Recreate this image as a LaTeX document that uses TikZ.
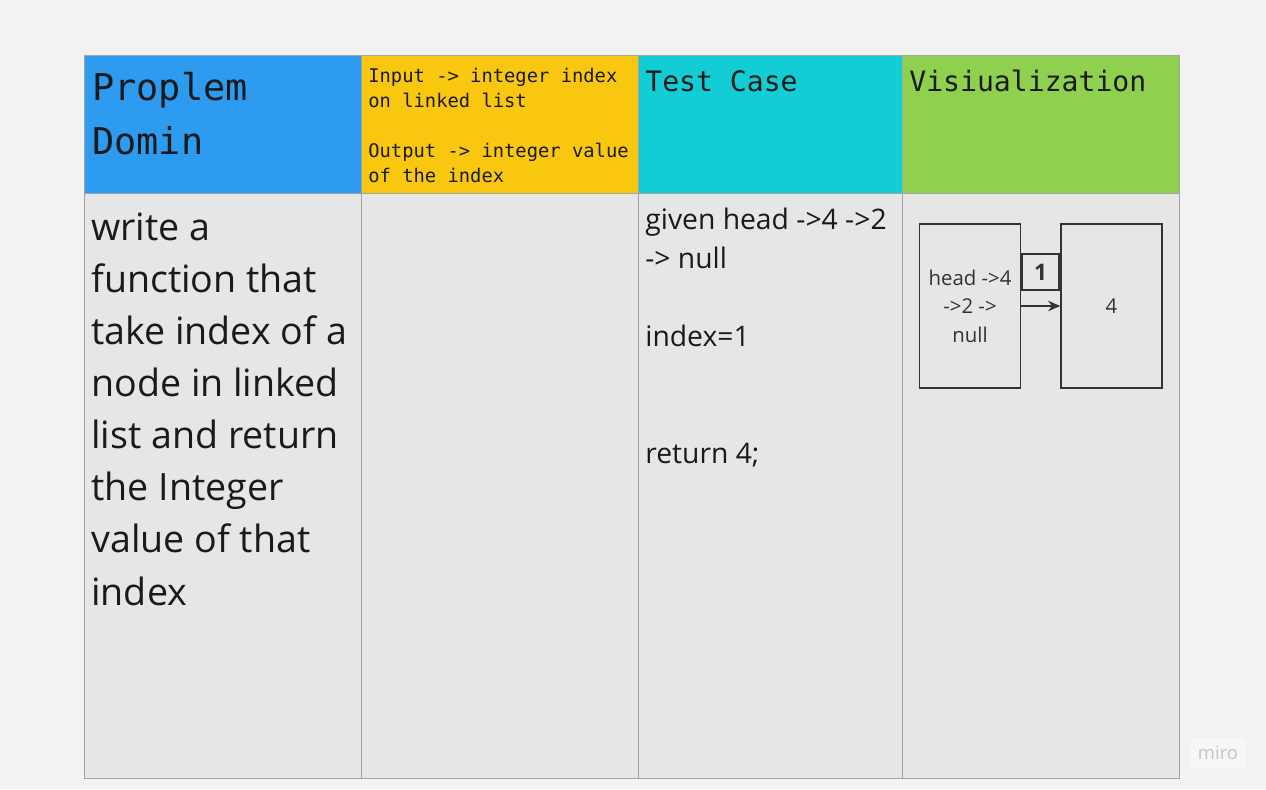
\documentclass[tikz,border=0pt]{standalone}
\usepackage{fontspec}
\setmainfont{Open Sans}
\setmonofont{DejaVu Sans Mono}
\usetikzlibrary{arrows.meta, positioning}
\definecolor{mirobg}{HTML}{F2F2F2}
\definecolor{cellgray}{HTML}{E6E6E6}
\definecolor{gridgray}{HTML}{A3A3A3}
\definecolor{miroblue}{HTML}{2D9BF0}
\definecolor{miroyellow}{HTML}{FAC710}
\definecolor{mirocyan}{HTML}{12CDD4}
\definecolor{mirogreen}{HTML}{8FD14F}
\definecolor{inkdark}{HTML}{1A1A1A}
\definecolor{boxline}{HTML}{333333}
\definecolor{marktext}{HTML}{C4C4C4}

\begin{document}
\begin{tikzpicture}[
  x=0.02cm, y=-0.02cm,
  cell/.style={rectangle, draw=gridgray, fill=#1, anchor=north west, inner sep=0pt},
  headtext/.style={anchor=north west, inner sep=0pt, align=left, text=inkdark, font=\ttfamily#1},
  bodytext/.style={anchor=north west, inner sep=0pt, align=left, text=inkdark, font=#1},
  vizbox/.style={rectangle, draw=boxline, thick, fill=cellgray, inner sep=0pt, align=center, text=boxline, font=\fontsize{11.6}{16.2}\selectfont},
]
\fill[mirobg] (0,0) rectangle (1266,789);

% header row
\node[cell=miroblue, minimum width=5.54cm, minimum height=2.76cm] (hdomain) at (84,55) {};
\node[cell=miroyellow, minimum width=5.54cm, minimum height=2.76cm] (hio) at (361,55) {};
\node[cell=mirocyan, minimum width=5.28cm, minimum height=2.76cm] (htest) at (638,55) {};
\node[cell=mirogreen, minimum width=5.54cm, minimum height=2.76cm] (hviz) at (902,55) {};

% body row
\node[cell=cellgray, minimum width=5.54cm, minimum height=11.7cm] (bdomain) at (84,193) {};
\node[cell=cellgray, minimum width=5.54cm, minimum height=11.7cm] (bio) at (361,193) {};
\node[cell=cellgray, minimum width=5.28cm, minimum height=11.7cm] (btest) at (638,193) {};
\node[cell=cellgray, minimum width=5.54cm, minimum height=11.7cm] (bviz) at (902,193) {};

% header texts
\node[headtext=\fontsize{21}{30.7}\selectfont] (tdomain) at (92,72) {Proplem\\Domin};
\node[headtext=\fontsize{10.7}{14.2}\selectfont] (tio) at (368,68) {Input -> integer index\\on linked list\\[14.2pt]Output -> integer value\\of the index};
\node[headtext=\fontsize{16}{22}\selectfont] (ttest) at (645,70) {Test Case};
\node[headtext=\fontsize{16}{22}\selectfont] (tviz) at (909,70) {Visiualization};

% body texts
\node[bodytext=\fontsize{21.4}{29.6}\selectfont] (tproblem) at (91,213) {write a\\function that\\take index of a\\node in linked\\list and return\\the Integer\\value of that\\index};
\node[bodytext=\fontsize{16.1}{22.2}\selectfont] (tcase) at (645,208) {given head ->4 ->2\\-> null\\[22.2pt]index=1\\[44.4pt]return 4;};

% visualization
\node[vizbox, minimum width=2.02cm, minimum height=3.28cm] (list) at (970,306) {head ->4\\->2 ->\\null};
\node[vizbox, minimum width=2.02cm, minimum height=3.28cm] (value) at (1111.5,306) {4};
\node[vizbox, minimum width=0.74cm, minimum height=0.72cm, font=\fontsize{13}{15}\selectfont\bfseries] (index) at (1040.5,272) {1};
\draw[-{Stealth[length=7pt, width=6pt]}, boxline, semithick] (list) -- (value);

% watermark
\node[rectangle, fill=white!40!mirobg, minimum width=1.08cm, minimum height=0.6cm, text=marktext, font=\fontsize{10.5}{12}\selectfont] (mark) at (1218,753) {miro};
\end{tikzpicture}
\end{document}
